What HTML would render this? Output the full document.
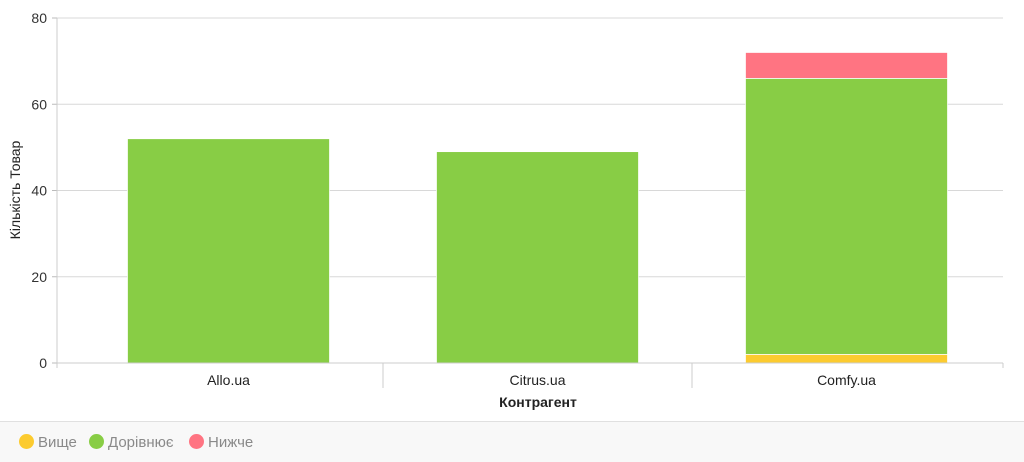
<!DOCTYPE html>
<html><head><meta charset="utf-8"><style>
body{margin:0;width:1024px;height:462px;background:#fff;font-family:"Liberation Sans","DejaVu Sans",sans-serif;overflow:hidden;position:relative}
#legend{position:absolute;left:0;top:421px;width:1024px;height:41px;background:#f8f8f8;border-top:1px solid #e0e0e0;box-sizing:border-box}
.li{position:absolute;top:12px;font-size:15px;color:#8a8a8a;line-height:16px}
.dot{display:inline-block;width:15px;height:15px;border-radius:50%;vertical-align:-2px;margin-right:4px}
</style></head><body>
<svg id="chart" width="1024" height="421" style="position:absolute;left:0;top:0"></svg>
<div id="legend">
<div class="li" style="left:19px"><span class="dot" style="background:#fccb2f"></span>Вище</div>
<div class="li" style="left:89px"><span class="dot" style="background:#88cd45"></span>Дорівнює</div>
<div class="li" style="left:189px"><span class="dot" style="background:#ff7482"></span>Нижче</div>
</div>
<script>
const categories=["Allo.ua","Citrus.ua","Comfy.ua"];
const above=[0,0,2];
const equal=[52,49,64];
const below=[0,0,6];
const yTicks=[0,20,40,60,80];
const NS="http://www.w3.org/2000/svg";
const svg=document.getElementById('chart');
const x0=57,x1=1003,y0=363,yTop=18,ymax=80;
const bStart=74,band=309;
const y=v=>y0-(v/ymax)*(y0-yTop);
function mk(t,a){const e=document.createElementNS(NS,t);for(const k in a)e.setAttribute(k,a[k]);svg.appendChild(e);return e;}
yTicks.forEach(t=>{
 const g=mk('line',{x1:x0,x2:x1,y1:y(t),y2:y(t),stroke:'#d8d8d8','stroke-width':1});
 
 
 mk('line',{x1:x0-5,x2:x0,y1:y(t),y2:y(t),stroke:'#bbb'});
 const tx=mk('text',{x:x0-10,y:y(t)+5,'text-anchor':'end','font-size':14,fill:'#333'});
 tx.textContent=t;
 
 
});
mk('line',{x1:x0,x2:x0,y1:yTop,y2:y0+5,stroke:'#ccc'});
const series=[[above,'#fccb2f','above'],[equal,'#88cd45','equal'],[below,'#ff7482','below']];
categories.forEach((c,i)=>{
 const bw=202,bx=bStart+band*(i+0.5)-bw/2;
 let acc=0;
 series.forEach(([arr,col,n])=>{
  const v=arr[i]; if(!v)return;
  const r=mk('rect',{x:bx,y:y(acc+v),width:bw,height:y(acc)-y(acc+v),fill:col,stroke:'#fff','stroke-width':0.7});
  
  
  acc+=v;
 });
 const t=mk('text',{x:bStart+band*(i+0.5),y:385,'text-anchor':'middle','font-size':14,fill:'#222'});
 t.textContent=c;
 
 
 if(i>0) mk('line',{x1:bStart+band*i,x2:bStart+band*i,y1:y0,y2:388,stroke:'#ccc'});
});
mk('line',{x1:x0,x2:x1,y1:y0,y2:y0,stroke:'#ccc'});
mk('line',{x1:x1,x2:x1,y1:y0,y2:368,stroke:'#ccc'});
const xt=mk('text',{x:538,y:407,'text-anchor':'middle','font-size':14,'font-weight':'bold',fill:'#222'});
xt.textContent='Контрагент';


const yt=mk('text',{x:0,y:0,'text-anchor':'middle','font-size':14,fill:'#222',transform:'translate(20,190) rotate(-90)'});
yt.textContent='Кількість Товар';


</script>
</body></html>
